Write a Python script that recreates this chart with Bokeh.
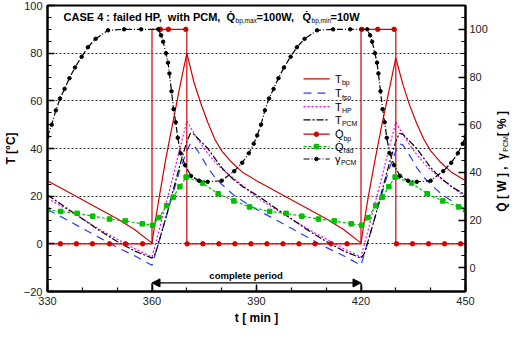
import math
from bokeh.plotting import figure
from bokeh.models import Range1d, LinearAxis, FixedTicker, Label, Arrow, NormalHead
from bokeh.embed import file_html
from bokeh.resources import INLINE

# ---------------- data ----------------
t_temp = [330, 335, 340, 345, 350, 355, 360, 361, 362, 364, 366, 368, 370, 371, 372, 374, 376, 378, 380, 383, 386,
          390, 395, 400, 405, 410, 415, 420, 421, 422, 424, 426, 428, 430, 431, 432, 434, 436, 438, 440, 443, 446, 450]
T_bp = [26.5, 22.5, 18.5, 14.5, 10.5, 6, 0.3, 10, 19, 36, 51, 66, 80, 74, 68, 59, 51, 44, 39, 34, 30,
        26.5, 22.5, 18.5, 14.5, 10.5, 6, 0.3, 10, 19, 35, 50, 64, 78, 72.5, 67, 58, 50.5, 44, 39, 34, 30, 26.5]
T_fso = [14.4, 10.5, 6.5, 2.5, -1.5, -5, -9, -4, 1, 11, 21, 31, 39, 42, 41.5, 37, 32, 28, 25, 21, 18,
         14.4, 10.5, 6.5, 2.5, -1.5, -5, -9, -4, 1, 11, 21, 31, 39, 42, 41.5, 37, 32, 28, 25, 21, 18, 14.4]
T_HP = [19, 15, 10.5, 6, 2, -2, -5.5, 0, 5.5, 17, 28, 40, 51.5, 49, 46.5, 42, 38, 34.5, 31.5, 28, 24.5,
        19.5, 15, 10.5, 6, 2, -2, -5.5, 0, 5.5, 17, 28, 40, 51, 48.5, 46, 41.5, 37.5, 34, 31, 27.5, 24, 19.5]
T_PCM = [20.5, 15.5, 10.5, 5.5, 1, -3, -6, -4, 1, 11, 22, 33, 43, 46.3, 46, 43, 40, 36, 32, 27.5, 24,
         20.5, 15.5, 10.5, 5.5, 1, -3, -6, -4, 1, 11, 22, 33, 43, 46.3, 46, 43, 40, 36, 32, 27.5, 24, 20.5]

t_qbp = [330, 360, 360, 370, 370, 420, 420, 430, 430, 450]
Q_bp = [10, 10, 100, 100, 10, 10, 100, 100, 10, 10]
t_qbp_mark = [333.7, 338.3, 342.9, 347.8, 352.4, 357.3, 362.4, 364.7, 369.7, 370.1, 374.6, 379.2, 383.8, 388.4,
              393.0, 397.6, 402.2, 406.8, 411.4, 416.0, 420.2, 424.8, 429.5, 430.2, 434.8, 439.4, 444.0, 448.6]
Q_bp_mark = [10, 10, 10, 10, 10, 10, 100, 100, 100, 10, 10, 10, 10, 10,
             10, 10, 10, 10, 10, 10, 100, 100, 100, 10, 10, 10, 10, 10]

t_qrad = [330, 333.8, 338.5, 343.0, 347.8, 352.3, 357.2, 360.2, 362.0, 364.2, 366.1, 368.0, 369.8, 374.5, 379.0,
          383.5, 388.0, 393.8, 398.5, 403.0, 407.8, 412.3, 417.2, 420.2, 422.0, 424.2, 426.1, 428.0, 429.8, 434.5,
          439.0, 443.5, 448.0, 450]
Q_rad = [24.3, 23.6, 22.8, 21.6, 20.4, 19.6, 18.4, 17.8, 21, 26, 29.6, 34, 38, 35.5, 31,
         28, 25.5, 23.6, 22.8, 21.6, 20.4, 19.6, 18.4, 17.8, 21, 26, 29.6, 34, 38, 35.5,
         31, 28, 25.5, 24.3]

t_gam = [330, 331.2, 332.4, 333.6, 334.9, 336.3, 337.9, 339.8, 341.6, 343.8, 347.4, 352.0, 356.9, 361.8,
         362.6, 363.2, 364.0, 364.6, 365.0, 365.6, 366.2, 366.8, 367.4, 368.2, 369.5, 371.2, 373.5, 376.0,
         380.0, 383.6, 385.9, 387.8, 389.2, 390.2, 391.3, 392.4, 393.6, 394.9, 396.3, 397.9, 399.8, 401.6,
         403.8, 407.4, 412.0, 416.9, 421.8, 422.6, 423.2, 424.0, 424.6, 425.0, 425.6, 426.2, 426.8, 427.4,
         428.2, 429.5, 431.2, 433.5, 436.0, 440.0, 443.6, 445.9, 447.8, 449.2, 450]
gam_PCM = [55, 60, 66, 71, 75, 79.5, 84, 88.5, 92.5, 96, 99.6, 100, 100, 100,
           97.5, 94.8, 90, 86, 81.5, 74, 66.5, 61, 54.5, 48, 43, 38.5, 36.5, 36,
           36.5, 40.5, 44, 48, 52, 55.5, 60, 66, 71, 75, 79.5, 84, 88.5, 92.5,
           96, 99.6, 100, 100, 100, 97.5, 94.8, 90, 86, 81.5, 74, 66.5, 61, 54.5,
           48, 43, 38.5, 36.5, 36, 36.5, 40.5, 44, 48, 52, 55]

x_ticks = [330, 360, 390, 420, 450]
y_ticks = [-20, 0, 20, 40, 60, 80, 100]
y2_ticks = [0, 20, 40, 60, 80, 100]
period = [360, 420]

# ---------------- styles ----------------
FONT = "Liberation Sans"
RED = "#d40000"
BLUE = "#2b3cff"
MAG = "#ff00ff"
GREEN = "#00c000"
BLK = "#000000"
NB = "\u00a0"

p = figure(width=511, height=327, x_range=Range1d(330, 450), y_range=Range1d(-20, 100),
           output_backend="svg", toolbar_location=None,
           min_border_left=37, min_border_right=30, min_border_top=5, min_border_bottom=26)
p.extra_y_ranges = {"right": Range1d(-10, 110)}
p.background_fill_color = "white"
p.border_fill_color = "white"
p.outline_line_color = "black"
p.outline_line_width = 2

p.xaxis.ticker = FixedTicker(ticks=x_ticks, minor_ticks=list(range(330, 451, 10)))
p.yaxis.ticker = FixedTicker(ticks=y_ticks, minor_ticks=list(range(-20, 101, 5)))
raxis = LinearAxis(y_range_name="right",
                   ticker=FixedTicker(ticks=y2_ticks, minor_ticks=list(range(-10, 111, 5))))
p.add_layout(raxis, "right")

for ax in [p.xaxis[0], p.yaxis[0], raxis]:
    ax.axis_line_width = 2
    ax.axis_line_color = "black"
    ax.major_tick_in = 7
    ax.major_tick_out = 0
    ax.minor_tick_in = 4
    ax.minor_tick_out = 0
    ax.major_tick_line_width = 1.5
    ax.minor_tick_line_width = 1.2
    ax.major_label_text_font = FONT
    ax.major_label_text_font_size = "11px"
    ax.major_label_text_color = "#222222"
    ax.major_label_standoff = 5
    ax.axis_label_text_font = FONT
    ax.axis_label_text_font_size = "12px"
    ax.axis_label_text_font_style = "bold"
    ax.axis_label_text_color = "black"
raxis.major_label_standoff = 4

p.xaxis[0].axis_label = "t [ min ]"
p.xaxis[0].axis_label_standoff = 3
p.yaxis[0].axis_label = "T [°C]"
p.yaxis[0].axis_label_standoff = 3

p.xgrid.visible = False
p.ygrid.grid_line_color = "#333333"
p.ygrid.grid_line_dash = "2 2"
p.ygrid.grid_line_width = 1

# ---------------- curves ----------------
LW = 1.2
p.line(t_temp, T_bp, line_color=RED, line_width=LW)
p.line(t_temp, T_fso, line_color=BLUE, line_width=LW, line_dash="8 6")
p.line(t_temp, T_HP, line_color=MAG, line_width=LW, line_dash="2 2")
p.line(t_temp, T_PCM, line_color=BLK, line_width=LW, line_dash="7 2 2 2")

p.line(t_qbp, Q_bp, line_color=RED, line_width=LW, y_range_name="right")
p.scatter(t_qbp_mark, Q_bp_mark, marker="circle", size=4.5, fill_color=RED, line_color=RED,
          y_range_name="right")

p.line(t_qrad, Q_rad, line_color=GREEN, line_width=LW, line_dash="3 2", y_range_name="right")
p.scatter(t_qrad, Q_rad, marker="square", size=4.5, fill_color=GREEN, line_color=GREEN,
          y_range_name="right")

p.line(t_gam, gam_PCM, line_color=BLK, line_width=LW, line_dash="6 2 1 2", y_range_name="right")
p.scatter(t_gam, gam_PCM, marker="circle", size=3.5, fill_color=BLK, line_color=BLK,
          y_range_name="right")


def txt(x, y, s, size, bold=False, xo=0, yo=0, align="left", angle=0.0, base="middle", side=None):
    lab = Label(x=x, y=y, text=s, x_offset=xo, y_offset=yo, text_font=FONT,
                text_font_size=f"{size}px", text_font_style="bold" if bold else "normal",
                text_align=align, text_baseline=base, angle=angle, text_color="black")
    if side is None:
        p.add_layout(lab)
    else:
        p.add_layout(lab, side)


# ---------------- title inside the frame ----------------
QD = "Q\u0307"
tx, ty = 334.6, 95.2
txt(tx, ty, "CASE 4 : failed HP," + NB + NB + "with PCM," + NB + NB + QD, 11, True)
txt(tx, ty, "bp,max", 6.5, False, xo=172, yo=-4)
txt(tx, ty, "=100W,", 11, True, xo=193)
txt(tx, ty, QD, 11, True, xo=239)
txt(tx, ty, "bp,min", 6.5, False, xo=248, yo=-4)
txt(tx, ty, "=10W", 11, True, xo=267)

# ---------------- legend ----------------
lx0, lx1, lxt = 403.5, 411.0, 412.5
rows = [69.2, 63.2, 57.6, 52.0, 46.0, 40.8, 35.6]
p.line([lx0, lx1], [rows[0]] * 2, line_color=RED, line_width=LW)
p.line([lx0, lx1], [rows[1]] * 2, line_color=BLUE, line_width=LW, line_dash="8 6")
p.line([lx0, lx1], [rows[2]] * 2, line_color=MAG, line_width=LW, line_dash="2 2")
p.line([lx0, lx1], [rows[3]] * 2, line_color=BLK, line_width=LW, line_dash="7 2 2 2")
p.line([lx0, lx1], [rows[4]] * 2, line_color=RED, line_width=LW)
p.scatter([407.2], [rows[4]], marker="circle", size=4.5, fill_color=RED, line_color=RED)
p.line([lx0, lx1], [rows[5]] * 2, line_color=GREEN, line_width=LW, line_dash="3 2")
p.scatter([407.2], [rows[5]], marker="square", size=4.5, fill_color=GREEN, line_color=GREEN)
p.line([lx0, lx1], [rows[6]] * 2, line_color=BLK, line_width=LW, line_dash="6 2 1 2")
p.scatter([407.2], [rows[6]], marker="circle", size=3.5, fill_color=BLK, line_color=BLK)

leg = [("T", "bp", 7), ("T", "fso", 7), ("T", "HP", 7), ("T", "PCM", 7),
       (QD, "bp", 8.5), (QD, "rad", 8.5), ("\u03b3", "PCM", 6)]
for (m, s, w), ry in zip(leg, rows):
    txt(lxt, ry, m, 11)
    txt(lxt, ry, s, 7, xo=w, yo=-4)

# ---------------- complete period ----------------
p.segment(x0=period, y0=[-16.4, -16.4], x1=period, y1=[-20, -20], line_color="black", line_width=1.2)
p.add_layout(Arrow(start=NormalHead(size=8, fill_color="black", line_color="black"),
                   end=NormalHead(size=8, fill_color="black", line_color="black"),
                   x_start=period[0], y_start=-16.4, x_end=period[1], y_end=-16.4,
                   line_color="black", line_width=1.2))
txt(387.0, -13.4, "complete period", 9.5, True, align="center")

# ---------------- right axis title (with subscript), placed in the right side panel ----------------
rx = 460.6
ry0 = 13.5
txt(rx, ry0, QD + " [ W ] ," + NB + NB + "\u03b3" + NB * 5 + "[ % ]", 12, True,
    angle=math.pi / 2, side="right")
txt(rx, ry0, "PCM", 7, False, angle=math.pi / 2, xo=3, yo=60, side="right")

open("out.html", "w").write(file_html(p, INLINE))
